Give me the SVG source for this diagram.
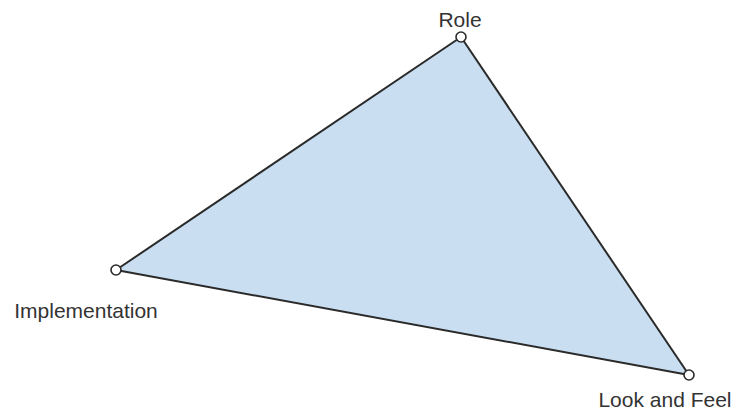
<svg xmlns="http://www.w3.org/2000/svg" width="734" height="412" viewBox="0 0 734 412">
<style>
.edge{stroke:#2a2a2a;stroke-width:2;fill:none}
.pt{fill:#ffffff;stroke:#2a2a2a;stroke-width:1.6}
.lbl{font-family:"Liberation Sans",Arial,sans-serif;font-size:21px;fill:#333333}
</style>
<rect width="734" height="412" fill="#ffffff"/>
<polygon points="461,37 116,270 689,375" fill="#c9dff1"/>
<g id="connectors">
<line class="edge" x1="461" y1="37" x2="116" y2="270"/>
<line class="edge" x1="116" y1="270" x2="689" y2="375"/>
<line class="edge" x1="689" y1="375" x2="461" y2="37"/>
</g>
<g id="role">
<circle class="pt" cx="461" cy="37" r="5"/>
<text class="lbl" x="460" y="27" text-anchor="middle">Role</text>
</g>
<g id="implementation">
<circle class="pt" cx="116" cy="270" r="5"/>
<text class="lbl" x="86" y="318" text-anchor="middle">Implementation</text>
</g>
<g id="lookandfeel">
<circle class="pt" cx="689" cy="375" r="5"/>
<text class="lbl" x="665" y="407" text-anchor="middle">Look and Feel</text>
</g>
</svg>
